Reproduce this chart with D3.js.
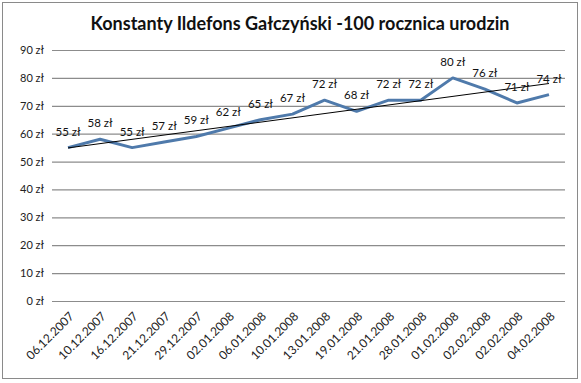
<!DOCTYPE html>
<html><head><meta charset="utf-8">
<script src="https://cdn.jsdelivr.net/npm/d3@7"></script>
<style>body{margin:0;background:#fff;}svg{display:block;font-family:Lato,"Open Sans",sans-serif;}</style>
</head><body><svg id="c" width="581" height="383"></svg>
<script>
const title = "Konstanty Ildefons Gałczyński -100 rocznica urodzin";
const dates = ["06.12.2007","10.12.2007","16.12.2007","21.12.2007","29.12.2007","02.01.2008","06.01.2008","10.01.2008","13.01.2008","19.01.2008","21.01.2008","28.01.2008","01.02.2008","02.02.2008","02.02.2008","04.02.2008"];
const prices = [55,58,55,57,59,62,65,67,72,68,72,72,80,76,71,74];
const yTicks = [0,10,20,30,40,50,60,70,80,90];

(function(){
const svg = d3.select("#c");
svg.append("rect").attr("x",2.5).attr("y",2.5).attr("width",575).attr("height",376)
  .attr("fill","#fff").attr("stroke","#8a8a8a");

svg.append("text").attr("x",300).attr("y",30).attr("text-anchor","middle")
  .attr("font-size",18).attr("font-weight","bold").attr("fill","#111").text(title);

const mLeft = 52, mRight = 565, mTop = 50, mBottom = 301;
const idx = dates.map((d,i)=>i);
const x = d3.scalePoint().domain(idx).range([mLeft,mRight]).padding(0.5);
const y = d3.scaleLinear().domain([0,90]).range([mBottom,mTop]);

const fmt = v => v + " zł";

const ya = svg.append("g").attr("transform",`translate(${mLeft},0)`)
  .call(d3.axisLeft(y).tickValues(yTicks).tickSize(-(mRight-mLeft)).tickPadding(8).tickFormat(fmt));
ya.select(".domain").remove();
ya.selectAll(".tick line").attr("stroke","#8c8c8c").attr("stroke-width",1.2);
ya.selectAll(".tick text").attr("font-size",11).attr("fill","#222").attr("font-family","Lato,sans-serif");

const xa = svg.append("g").attr("transform",`translate(0,${mBottom})`)
  .call(d3.axisBottom(x).tickSize(0).tickFormat(i=>dates[i]));
xa.select(".domain").remove();
xa.selectAll(".tick text").attr("font-size",12).attr("fill","#222").attr("font-family","Lato,sans-serif")
  .attr("text-anchor","end").attr("dx",0).attr("dy",0)
  .attr("transform","translate(4,14) rotate(-45)");

const line = d3.line().x((d,i)=>x(i)).y(d=>y(d));
svg.append("path").datum(prices).attr("d",line).attr("fill","none")
  .attr("stroke","#4f7aab").attr("stroke-width",3).attr("stroke-linejoin","round");

const n = prices.length;
const mx = d3.mean(idx), my = d3.mean(prices);
const slope = d3.sum(idx,i=>(i-mx)*(prices[i]-my))/d3.sum(idx,i=>(i-mx)*(i-mx));
const icpt = my - slope*mx;
svg.append("line").attr("x1",x(0)).attr("y1",y(icpt)).attr("x2",x(n-1)).attr("y2",y(icpt+slope*(n-1)))
  .attr("stroke","#000").attr("stroke-width",1);

svg.append("g").selectAll("text").data(prices).join("text")
  .attr("x",(d,i)=>x(i)).attr("y",d=>y(d)-12).attr("text-anchor","middle")
  .attr("font-size",11.5).attr("fill","#111").text(fmt);
})();
</script></body></html>
